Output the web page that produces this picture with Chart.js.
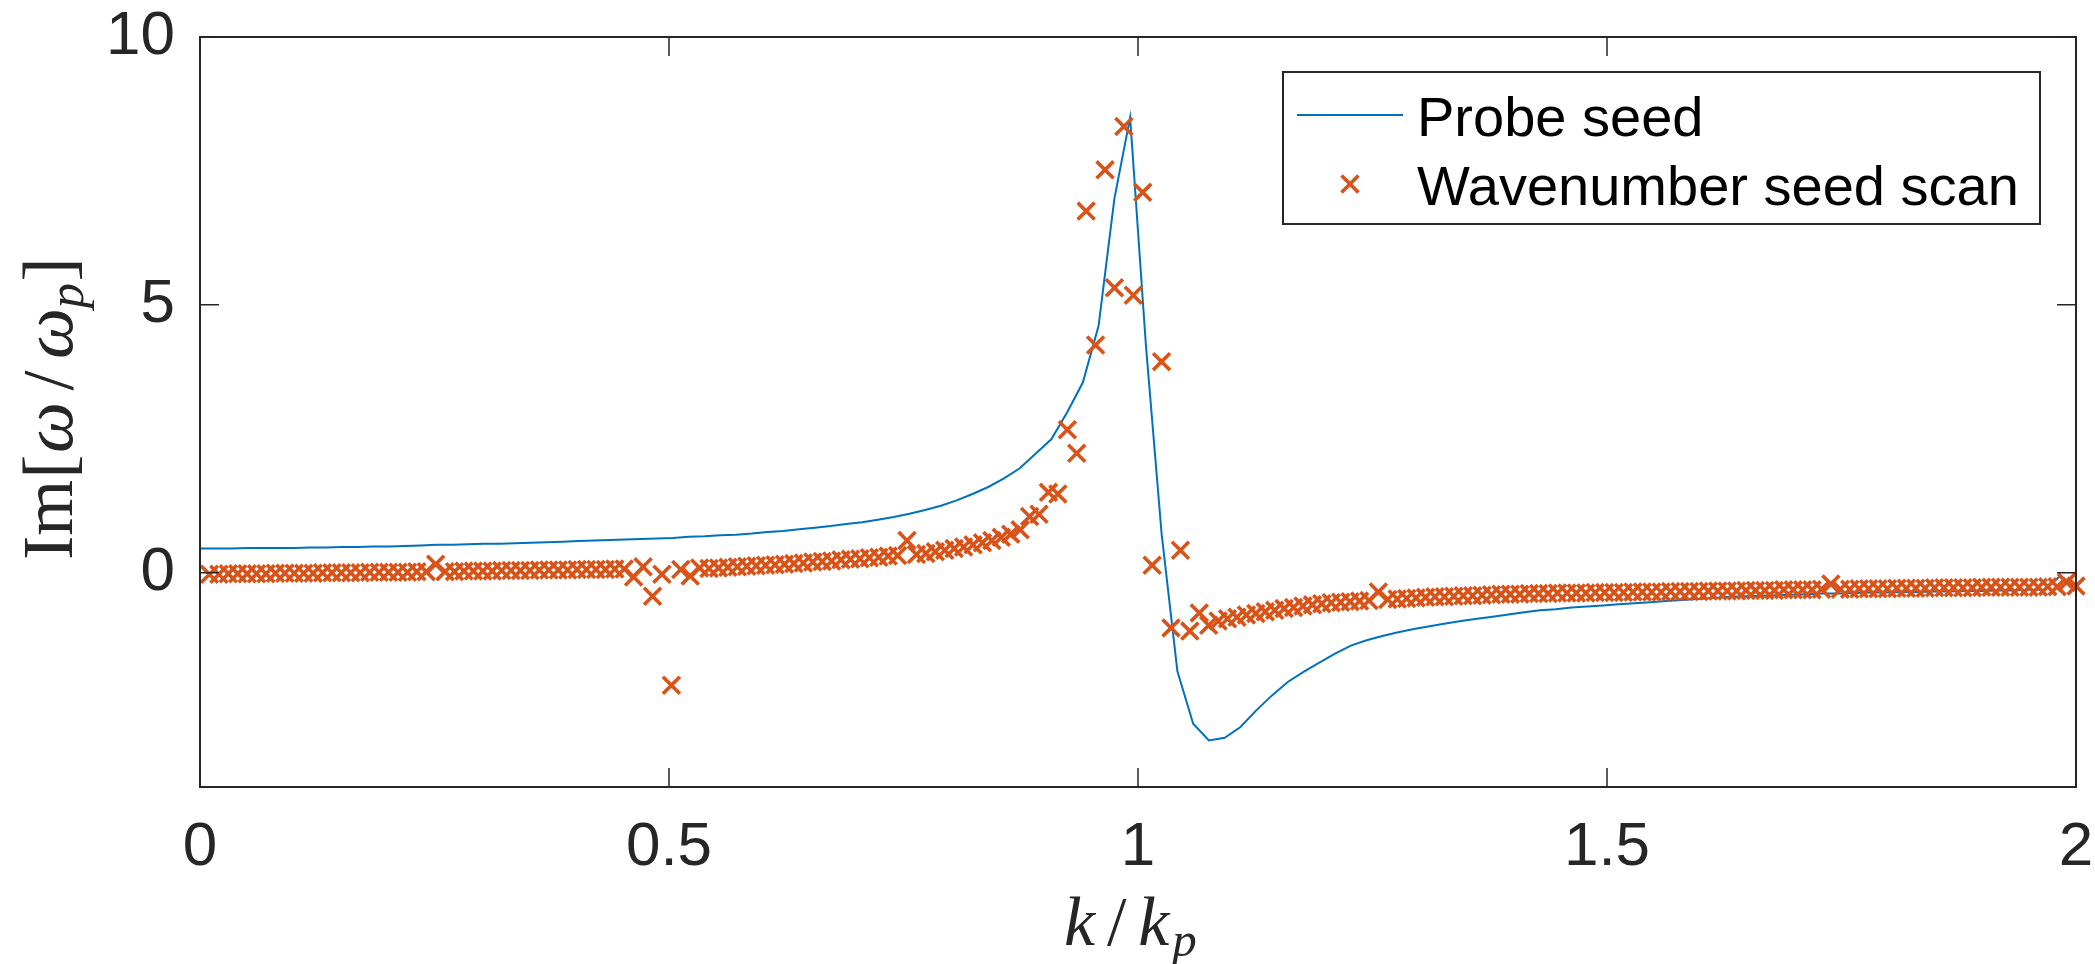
<!DOCTYPE html>
<html lang="en">
<head>
    <meta charset="UTF-8">
    <title>Im[ω/ωp] against k/kp</title>
    <style>
        body {
            margin: 0;
            background-color: #ffffff;
        }

        canvas {
            display: block;
        }
    </style>

    <script src="https://cdn.jsdelivr.net/npm/chart.js@4.4.1/dist/chart.umd.min.js"></script>
</head>
<body>
    <canvas id="growthChart" width="2095" height="964"></canvas>

    <script>
        // same as MATLAB's linspace, used for the k/kp sample grids
        function linspace(a, b, n) {
            const out = [];
            for (let i = 0; i < n; i++) out.push(a + (b - a) * i / (n - 1));
            return out;
        }

        const kProbe = linspace(0, 2, 120);
        const kScan = linspace(0, 2, 200);

        const probeSeed = [
            0.45, 0.45, 0.45, 0.46, 0.46, 0.46, 0.46, 0.47, 0.47, 0.48,
            0.48, 0.49, 0.49, 0.50, 0.51, 0.52, 0.52, 0.53, 0.54, 0.54,
            0.55, 0.56, 0.57, 0.58, 0.59, 0.60, 0.61, 0.62, 0.63, 0.64,
            0.65, 0.67, 0.68, 0.70, 0.71, 0.73, 0.76, 0.78, 0.81, 0.84,
            0.87, 0.91, 0.94, 0.99, 1.04, 1.10, 1.17, 1.25, 1.35, 1.47,
            1.60, 1.76, 1.95, 2.22, 2.49, 2.99, 3.55, 4.61, 6.98, 8.50,
            4.25, 0.72, -1.84, -2.82, -3.13, -3.08, -2.88, -2.57, -2.29, -2.04,
            -1.85, -1.68, -1.51, -1.36, -1.26, -1.18, -1.11, -1.05, -1.00, -0.95,
            -0.90, -0.86, -0.82, -0.78, -0.74, -0.70, -0.68, -0.65, -0.63, -0.61,
            -0.59, -0.57, -0.55, -0.53, -0.51, -0.49, -0.47, -0.45, -0.44, -0.43,
            -0.42, -0.41, -0.40, -0.39, -0.39, -0.38, -0.37, -0.37, -0.36, -0.36,
            -0.35, -0.35, -0.34, -0.34, -0.33, -0.33, -0.32, -0.32, -0.06, -0.30
        ];

        // no root found at k = 0
        const seedScan = [
            null, -0.03, -0.03, -0.02, -0.02, -0.02, -0.02, -0.02, -0.01, -0.01,
            -0.01, -0.01, -0.01, 0.00, 0.00, 0.00, 0.00, 0.00, 0.01, 0.01,
            0.01, 0.01, 0.01, 0.02, 0.02, 0.16, 0.02, 0.02, 0.03, 0.03,
            0.03, 0.03, 0.04, 0.04, 0.04, 0.04, 0.05, 0.05, 0.05, 0.05,
            0.06, 0.06, 0.06, 0.06, 0.07, 0.07, -0.08, 0.11, -0.44, -0.03,
            -2.10, 0.06, -0.06, 0.09, 0.08, 0.09, 0.10, 0.11, 0.12, 0.13,
            0.14, 0.15, 0.16, 0.17, 0.18, 0.20, 0.21, 0.22, 0.24, 0.25,
            0.26, 0.28, 0.29, 0.31, 0.32, 0.60, 0.34, 0.36, 0.39, 0.42,
            0.45, 0.48, 0.52, 0.56, 0.60, 0.66, 0.72, 0.80, 1.05, 1.09,
            1.50, 1.47, 2.67, 2.23, 6.75, 4.25, 7.52, 5.32, 8.33, 5.18,
            7.10, 0.14, 3.94, -1.03, 0.42, -1.09, -0.75, -0.98, -0.90, -0.86,
            -0.83, -0.79, -0.76, -0.73, -0.70, -0.67, -0.65, -0.62, -0.60, -0.58,
            -0.56, -0.55, -0.54, -0.53, -0.52, -0.36, -0.50, -0.49, -0.48, -0.47,
            -0.46, -0.45, -0.45, -0.44, -0.43, -0.43, -0.42, -0.41, -0.40, -0.40,
            -0.40, -0.39, -0.39, -0.39, -0.38, -0.38, -0.38, -0.38, -0.37, -0.37,
            -0.37, -0.37, -0.36, -0.36, -0.36, -0.36, -0.35, -0.35, -0.35, -0.35,
            -0.34, -0.34, -0.34, -0.34, -0.33, -0.33, -0.33, -0.33, -0.32, -0.32,
            -0.32, -0.32, -0.31, -0.21, -0.31, -0.31, -0.30, -0.30, -0.30, -0.30,
            -0.29, -0.29, -0.29, -0.29, -0.28, -0.28, -0.28, -0.28, -0.28, -0.27,
            -0.27, -0.27, -0.27, -0.27, -0.27, -0.27, -0.26, -0.26, -0.18, -0.25
        ];

        const xTicks = [0, 0.5, 1, 1.5, 2];
        const yTicks = [0, 5, 10];

        const blue = '#0072BD';
        const orange = '#D95319';
        const axisColor = '#262626';
        const sans = "'Liberation Sans', Arial, sans-serif";
        const serif = "'Liberation Serif', 'Times New Roman', serif";
        const tickLen = 19;

        // x marker as used by MATLAB's 'x' (half width ~ 0.707 * radius)
        function drawCross(ctx, x, y, r) {
            const d = r * Math.SQRT1_2;
            ctx.beginPath();
            ctx.moveTo(x - d, y - d);
            ctx.lineTo(x + d, y + d);
            ctx.moveTo(x + d, y - d);
            ctx.lineTo(x - d, y + d);
            ctx.stroke();
        }

        // LaTeX-ish label: parts are drawn one after another, centered on 0
        function drawMath(ctx, parts, size) {
            const fontFor = p => `${p.it ? 'italic ' : ''}${p.sub ? size * 0.7 : size}px ${serif}`;
            let total = 0;
            const widths = parts.map(p => {
                ctx.font = fontFor(p);
                const w = ctx.measureText(p.t).width + (p.gap || 0) * size * 2;
                total += w;
                return w;
            });
            let x = -total / 2;
            parts.forEach((p, i) => {
                ctx.font = fontFor(p);
                ctx.fillText(p.t, x + (p.gap || 0) * size, p.sub ? size * 0.15 : 0);
                x += widths[i];
            });
        }

        const xLabel = [
            { t: 'k', it: true, gap: 0.04 },
            { t: '/', gap: 0.13 },
            { t: 'k', it: true, gap: 0.04 },
            { t: 'p', it: true, sub: true }
        ];
        const yLabel = [
            { t: 'Im' },
            { t: '[', gap: 0.02 },
            { t: 'ω', it: true },
            { t: '/', gap: 0.16 },
            { t: 'ω', it: true },
            { t: 'p', it: true, sub: true },
            { t: ']', gap: 0.02 }
        ];

        const framePlugin = {
            id: 'frame',
            afterDatasetsDraw(chart) {
                const { ctx, chartArea: a, scales: { x, y } } = chart;
                ctx.save();
                ctx.strokeStyle = axisColor;
                ctx.lineWidth = 2;
                ctx.strokeRect(a.left, a.top, a.right - a.left, a.bottom - a.top);

                ctx.lineWidth = 1.5;
                ctx.beginPath();
                xTicks.forEach(v => {
                    const px = x.getPixelForValue(v);
                    ctx.moveTo(px, a.bottom);
                    ctx.lineTo(px, a.bottom - tickLen);
                    ctx.moveTo(px, a.top);
                    ctx.lineTo(px, a.top + tickLen);
                });
                yTicks.forEach(v => {
                    const py = y.getPixelForValue(v);
                    ctx.moveTo(a.left, py);
                    ctx.lineTo(a.left + tickLen, py);
                    ctx.moveTo(a.right, py);
                    ctx.lineTo(a.right - tickLen, py);
                });
                ctx.stroke();
                ctx.restore();
            },
            afterDraw(chart) {
                const { ctx, chartArea: a } = chart;
                const [probe, scan] = chart.data.datasets;

                // legend box, top right inside the axes
                ctx.save();
                ctx.fillStyle = '#ffffff';
                ctx.strokeStyle = axisColor;
                ctx.lineWidth = 2;
                ctx.fillRect(1283, 72, 757, 152);
                ctx.strokeRect(1283, 72, 757, 152);

                ctx.strokeStyle = probe.borderColor;
                ctx.lineWidth = probe.borderWidth;
                ctx.beginPath();
                ctx.moveTo(1297, 115);
                ctx.lineTo(1403, 115);
                ctx.stroke();

                ctx.strokeStyle = scan.borderColor;
                ctx.lineWidth = scan.borderWidth;
                drawCross(ctx, 1350, 184, scan.pointRadius);

                ctx.fillStyle = '#000000';
                ctx.font = `56px ${sans}`;
                ctx.textBaseline = 'alphabetic';
                ctx.fillText(probe.label, 1417, 136);
                ctx.fillText(scan.label, 1417, 205);

                // axis titles
                ctx.fillStyle = axisColor;
                ctx.save();
                ctx.translate((a.left + a.right) / 2 - 9, 945);
                drawMath(ctx, xLabel, 70);
                ctx.restore();

                ctx.save();
                ctx.translate(72, 408);
                ctx.rotate(-Math.PI / 2);
                drawMath(ctx, yLabel, 72);
                ctx.restore();

                ctx.restore();
            }
        };

        const tickFont = { family: sans, size: 62 };

        new Chart(document.getElementById('growthChart'), {
            type: 'scatter',
            data: {
                datasets: [
                    {
                        label: 'Probe seed',
                        data: kProbe.map((k, i) => ({ x: k, y: probeSeed[i] })),
                        showLine: true,
                        borderColor: blue,
                        borderWidth: 2,
                        pointRadius: 0,
                        fill: false,
                        order: 1
                    },
                    {
                        label: 'Wavenumber seed scan',
                        data: kScan.map((k, i) => ({ x: k, y: seedScan[i] })),
                        showLine: false,
                        pointStyle: 'crossRot',
                        pointRadius: 12,
                        borderColor: orange,
                        backgroundColor: orange,
                        borderWidth: 3.6,
                        clip: false,
                        order: 0
                    }
                ]
            },
            options: {
                responsive: false,
                animation: false,
                devicePixelRatio: 1,
                layout: {
                    padding: { top: 37, right: 19, left: 0, bottom: 0 }
                },
                plugins: {
                    legend: { display: false },
                    tooltip: { enabled: false }
                },
                scales: {
                    x: {
                        type: 'linear',
                        min: 0,
                        max: 2,
                        grid: { display: false, drawTicks: false },
                        border: { display: false },
                        ticks: {
                            font: tickFont,
                            color: axisColor,
                            padding: 24,
                            maxRotation: 0,
                            callback: v => String(v)
                        },
                        afterBuildTicks: scale => {
                            scale.ticks = xTicks.map(v => ({ value: v }));
                        },
                        afterFit: scale => {
                            scale.height = 177;
                            scale.paddingLeft = 0;
                            scale.paddingRight = 0;
                        }
                    },
                    y: {
                        type: 'linear',
                        min: -4,
                        max: 10,
                        grid: { display: false, drawTicks: false },
                        border: { display: false },
                        ticks: {
                            font: tickFont,
                            color: axisColor,
                            padding: 25,
                            callback: v => String(v)
                        },
                        afterBuildTicks: scale => {
                            scale.ticks = yTicks.map(v => ({ value: v }));
                        },
                        afterFit: scale => {
                            scale.width = 200;
                            scale.paddingTop = 0;
                            scale.paddingBottom = 0;
                        }
                    }
                }
            },
            plugins: [framePlugin]
        });
    </script>
</body>
</html>
